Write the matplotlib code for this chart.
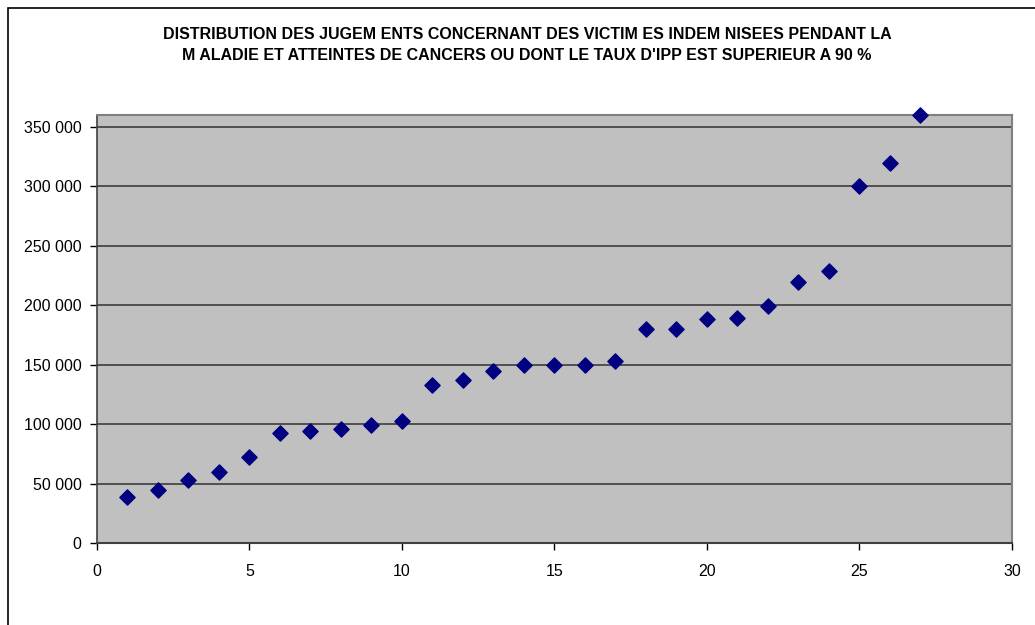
import matplotlib as mpl
mpl.use('Agg')
import matplotlib.pyplot as plt
from matplotlib.ticker import FuncFormatter
from matplotlib.patches import Rectangle

# rank of the judgement and amount awarded
rangs = list(range(1, 28))
montants = [39000, 45000, 53000, 60000, 72000, 92500, 94500, 96000, 99500, 102500,
            133000, 137000, 145000, 150000, 150000, 150000, 153000, 180000, 180000,
            188000, 189000, 199000, 219500, 229000, 300000, 320000, 360000]

titre = ("DISTRIBUTION DES JUGEM ENTS CONCERNANT DES VICTIM ES INDEM NISEES PENDANT LA\n"
         "M ALADIE ET ATTEINTES DE CANCERS OU DONT LE TAUX D'IPP EST SUPERIEUR A 90 %")

plt.rcParams['font.family'] = ['Liberation Sans', 'DejaVu Sans']

fig = plt.figure(figsize=(10.35, 6.25), dpi=100)
ax = fig.add_axes([0.0937, 0.1312, 0.884, 0.6848])
ax.set_facecolor('#c0c0c0')

ax.scatter(rangs, montants, marker='D', s=60, color='#000080', zorder=3, clip_on=False)

ax.set_xlim(0, 30)
ax.set_ylim(0, 360000)
ax.set_xticks(range(0, 31, 5))
ax.set_yticks(range(0, 350001, 50000))
ax.yaxis.set_major_formatter(FuncFormatter(lambda v, p: f'{int(v):,}'.replace(',', ' ')))
ax.grid(axis='y', color='#3c3c3c', linewidth=1.2)
ax.set_axisbelow(True)
ax.tick_params(direction='out', length=5, width=1, labelsize=11.5, colors='black', pad=6)
ax.tick_params(axis='x', pad=10)

for side in ['top', 'right']:
    ax.spines[side].set_color('#808080')
    ax.spines[side].set_linewidth(1.5)
ax.spines['left'].set_color('#404040')
ax.spines['bottom'].set_color('#404040')
ax.spines['left'].set_linewidth(1.2)
ax.spines['bottom'].set_linewidth(1.5)

fig.text(0.509, 0.928, titre, ha='center', va='center', fontsize=11.5,
         fontweight='bold', linespacing=1.45)

# outer chart frame (only left/top are inside the image)
fig.patches.append(Rectangle((8 / 1035, -0.1), 1.2, (625 - 8) / 625 + 0.1,
                             transform=fig.transFigure, fill=False,
                             edgecolor='black', linewidth=1.2))

fig.savefig('out.png', dpi=100)
